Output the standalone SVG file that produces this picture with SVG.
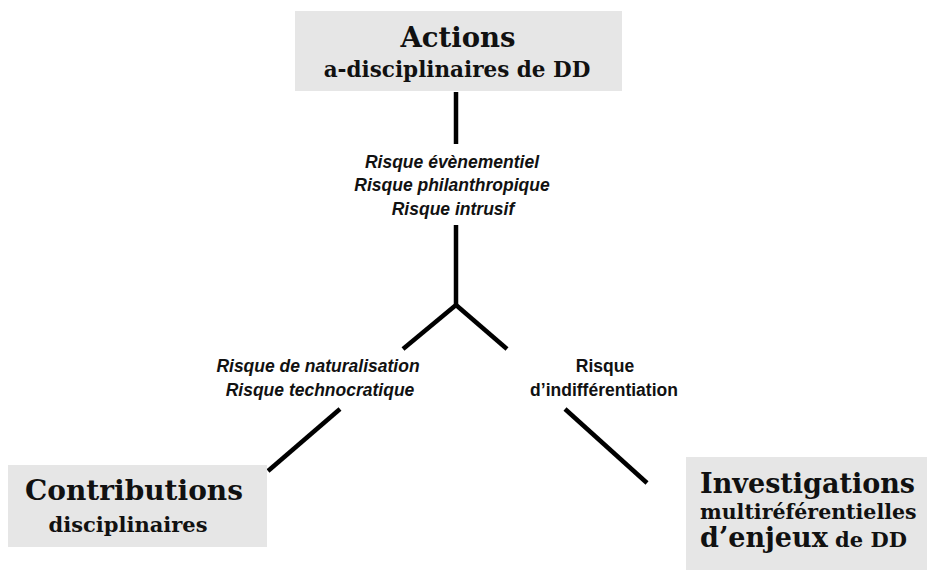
<svg xmlns="http://www.w3.org/2000/svg" width="927" height="570" viewBox="0 0 927 570">
<style>
.box{fill:#e6e6e6;}
.h{font-family:"DejaVu Serif","Liberation Serif",serif;font-weight:bold;fill:#111;}
.r{font-family:"Liberation Sans",Arial,sans-serif;font-weight:bold;font-style:italic;font-size:17.5px;fill:#111;text-anchor:middle;}
.rn{font-family:"Liberation Sans",Arial,sans-serif;font-weight:bold;font-size:17.5px;fill:#111;text-anchor:middle;}
.ln{stroke:#000;stroke-width:4.5;fill:none;stroke-linecap:butt;}
</style>
<rect width="927" height="570" fill="#fff"/>
<g id="connectors">
<line class="ln" x1="456" y1="92" x2="456" y2="144"/>
<polyline class="ln" points="456,225 456,306"/>
<line class="ln" x1="456" y1="305" x2="403" y2="349"/>
<line class="ln" x1="456" y1="305" x2="507" y2="349"/>
<line class="ln" x1="340" y1="409" x2="268" y2="471"/>
<line class="ln" x1="565" y1="409" x2="647" y2="483"/>
</g>
<g id="labels">
<text class="r" x="452" y="168">Risque évènementiel</text>
<text class="r" x="452" y="191">Risque philanthropique</text>
<text class="r" x="453" y="215">Risque intrusif</text>
<text class="r" x="318" y="372">Risque de naturalisation</text>
<text class="r" x="320" y="396">Risque technocratique</text>
<text class="rn" x="605" y="372">Risque</text>
<text class="rn" x="604" y="396">d’indifférentiation</text>
</g>
<g id="actions">
<rect class="box" x="295" y="11" width="327" height="80"/>
<text class="h" x="458" y="47" font-size="27.5" text-anchor="middle">Actions</text>
<text class="h" x="457" y="77" font-size="21.5" text-anchor="middle">a-disciplinaires de DD</text>
</g>
<g id="contributions">
<rect class="box" x="8" y="465" width="259" height="82"/>
<text class="h" x="134" y="500" font-size="28" text-anchor="middle">Contributions</text>
<text class="h" x="128" y="532" font-size="21" text-anchor="middle">disciplinaires</text>
</g>
<g id="investigations">
<rect class="box" x="686" y="457" width="241" height="113"/>
<text class="h" x="700" y="493" font-size="27">Investigations</text>
<text class="h" x="700" y="519" font-size="20.5">multiréférentielles</text>
<text class="h" x="700" y="547"><tspan font-size="27">d’enjeux</tspan><tspan font-size="21"> de DD</tspan></text>
</g>
</svg>
